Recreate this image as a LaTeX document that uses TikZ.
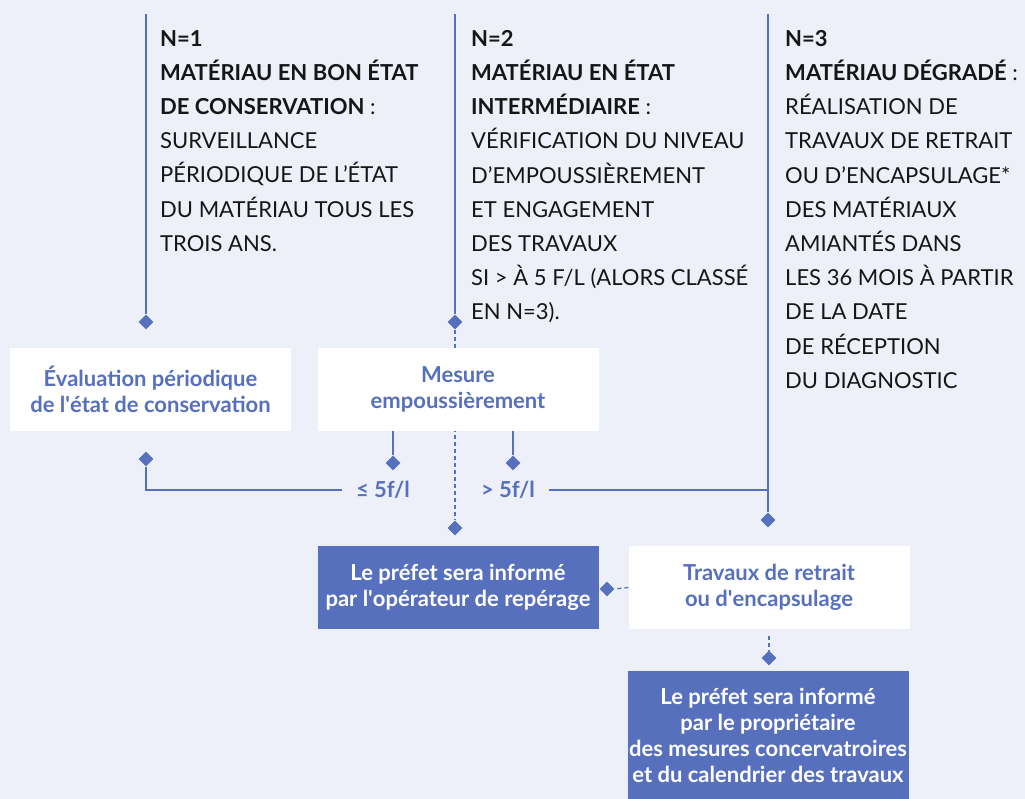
\documentclass[tikz,border=0pt]{standalone}
\usepackage{fontspec}
\setmainfont{Lato}
\usetikzlibrary{shapes.geometric}
\definecolor{bg}{HTML}{EDF0F9}
\definecolor{fr}{HTML}{5670BE}
\definecolor{ink}{HTML}{161616}
\newcommand{\apos}{\textquotesingle}

\begin{document}
\begin{tikzpicture}[x=1pt,y=-1pt,
  wire/.style={draw=fr, line width=1.3pt},
  dwire/.style={wire, dash pattern=on 4pt off 3pt},
  pin/.style={diamond, fill=fr, inner sep=0pt, minimum size=15pt},
  whitebox/.style={fill=white, text=fr, font=\fontsize{22}{26}\selectfont\bfseries,
    align=center, minimum width=281pt, minimum height=83pt, inner sep=0pt},
  bluebox/.style={whitebox, fill=fr, text=white},
  head/.style={anchor=north west, inner sep=0pt, align=left, text=ink,
    font=\fontsize{22}{34.2}\selectfont},
  cut/.style={text=fr, font=\fontsize{22}{24}\selectfont\bfseries, inner xsep=14pt, inner ysep=0pt}
]
\fill[bg] (0,0) rectangle (1025,799);
\useasboundingbox (0,0) rectangle (1025,799);

% column headings
\node[head] (c1) at (160,30) {\textbf{N=1}\\ \textbf{MATÉRIAU EN BON ÉTAT}\\ \textbf{DE CONSERVATION} :\\ SURVEILLANCE\\ PÉRIODIQUE DE L’ÉTAT\\ DU MATÉRIAU TOUS LES\\ TROIS ANS.};
\node[head] (c2) at (471,30) {\textbf{N=2}\\ \textbf{MATÉRIAU EN ÉTAT}\\ \textbf{INTERMÉDIAIRE} :\\ VÉRIFICATION DU NIVEAU\\ D’EMPOUSSIÈREMENT\\ ET ENGAGEMENT\\ DES TRAVAUX\\ SI > À 5 F/L (ALORS CLASSÉ\\ EN N=3).};
\node[head] (c3) at (785,30) {\textbf{N=3}\\ \textbf{MATÉRIAU DÉGRADÉ} :\\ RÉALISATION DE\\ TRAVAUX DE RETRAIT\\ OU D’ENCAPSULAGE*\\ DES MATÉRIAUX\\ AMIANTÉS DANS\\ LES 36 MOIS À PARTIR\\ DE LA DATE\\ DE RÉCEPTION\\ DU DIAGNOSTIC};

% line tops
\coordinate (t1) at (146,14);
\coordinate (t2) at (455,14);
\coordinate (t3) at (768,14);
\coordinate (j) at (768,490);

% diamonds
\node[pin] (p1) at (146,322) {};
\node[pin] (p2) at (455,322) {};
\node[pin] (p3) at (455,528) {};
\node[pin] (p4) at (768,520) {};
\node[pin] (p5) at (146,459) {};
\node[pin] (p6) at (393,463) {};
\node[pin] (p7) at (513,463) {};
\node[pin] (p8) at (607,589) {};
\node[pin] (p9) at (769,658) {};

% dashed line passing behind the measurement box
\draw[dwire] (p2.south) -- (p3.north);

% boxes
\node[whitebox] (b1) at (150.5,389.5) {Évaluation périodique\\de l\apos état de conservation};
\node[whitebox] (b2) at (458,389.5) {Mesure\\empoussièrement};
\node[bluebox] (b3) at (458,587.5) {Le préfet sera informé\\par l\apos opérateur de repérage};
\node[whitebox] (b4) at (769,587.5) {Travaux de retrait\\ou d\apos encapsulage};
\node[bluebox, minimum height=129pt] (b5) at (768,735.5) {Le préfet sera informé\\par le propriétaire\\des mesures concervatroires\\et du calendrier des travaux};

% thresholds
\node[cut] (le) at (383,490) {≤ 5f/l};
\node[cut] (gt) at (508,490) {> 5f/l};

% connectors
\draw[wire] (t1) -- (p1.north);
\draw[wire] (t2) -- (p2.north);
\draw[wire] (t3) -- (p4.north);
\draw[wire] (p5.south) |- (le.west);
\draw[wire] (gt.east) -- (j);
\draw[wire] (b2.south -| p6) -- (p6.north);
\draw[wire] (b2.south -| p7) -- (p7.north);
\draw[dwire] (b4.west) -- (p8.east);
\draw[dwire, shorten <=7pt] (b4.south) -- (p9.north);
\end{tikzpicture}
\end{document}
